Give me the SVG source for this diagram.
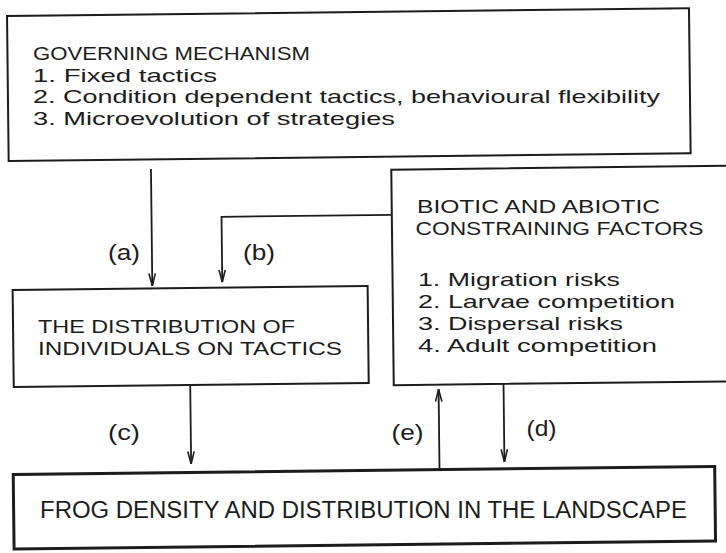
<svg xmlns="http://www.w3.org/2000/svg" width="726" height="553" viewBox="0 0 726 553">
<style>
.box{fill:none;stroke:#1c1c1c;stroke-width:2}
.thick{stroke-width:3}
.t{font-family:"Liberation Sans","DejaVu Sans",sans-serif;font-size:22px;fill:#1c1c1c}
.s{font-size:19px}
.big{font-size:23px}
.c{fill:none;stroke:#1c1c1c;stroke-width:1.8}
.ah{fill:none;stroke:#1c1c1c;stroke-width:1.6;stroke-linejoin:miter}
</style>
<defs>
<marker id="arr" viewBox="0 0 13 8" refX="12.5" refY="4" markerWidth="13" markerHeight="8" markerUnits="userSpaceOnUse" orient="auto">
<path class="ah" d="M0,0.8 L12.5,4 L0,7.2"/>
</marker>
</defs>
<rect x="0" y="0" width="726" height="553" fill="#ffffff"/>
<g id="governing-mechanism">
<rect class="box" x="10" y="12" width="682" height="145" transform="rotate(-0.65 363 276)"/>
<text class="t s" x="33" y="60" textLength="277" lengthAdjust="spacingAndGlyphs">GOVERNING MECHANISM</text>
<text class="t s" x="33" y="81.5" textLength="184" lengthAdjust="spacingAndGlyphs">1. Fixed tactics</text>
<text class="t s" x="33" y="103" textLength="627" lengthAdjust="spacingAndGlyphs">2. Condition dependent tactics, behavioural flexibility</text>
<text class="t s" x="33" y="124.5" textLength="362" lengthAdjust="spacingAndGlyphs">3. Microevolution of strategies</text>
</g>
<g id="constraining-factors">
<rect class="box" x="392.5" y="170" width="370" height="215.5" transform="rotate(-0.65 363 276)"/>
<text class="t s" x="417" y="212.5" textLength="243" lengthAdjust="spacingAndGlyphs">BIOTIC AND ABIOTIC</text>
<text class="t s" x="415.5" y="234.5" textLength="288" lengthAdjust="spacingAndGlyphs">CONSTRAINING FACTORS</text>
<text class="t s" x="418" y="286" textLength="202" lengthAdjust="spacingAndGlyphs">1. Migration risks</text>
<text class="t s" x="418" y="308" textLength="257" lengthAdjust="spacingAndGlyphs">2. Larvae competition</text>
<text class="t s" x="418" y="330" textLength="205" lengthAdjust="spacingAndGlyphs">3. Dispersal risks</text>
<text class="t s" x="418" y="352" textLength="239" lengthAdjust="spacingAndGlyphs">4. Adult competition</text>
</g>
<g id="distribution">
<rect class="box" x="12.5" y="286" width="355" height="97" transform="rotate(-0.65 363 276)"/>
<text class="t s" x="38" y="333" textLength="257" lengthAdjust="spacingAndGlyphs">THE DISTRIBUTION OF</text>
<text class="t s" x="38" y="355" textLength="304" lengthAdjust="spacingAndGlyphs">INDIVIDUALS ON TACTICS</text>
</g>
<g id="landscape">
<rect class="box thick" x="11" y="470.5" width="701.5" height="74.5" transform="rotate(-0.65 363 276)"/>
<text class="t big" x="40" y="517.5" textLength="647" lengthAdjust="spacingAndGlyphs">FROG DENSITY AND DISTRIBUTION IN THE LANDSCAPE</text>
</g>
<g id="connectors">
<g transform="rotate(-0.65 363 276)">
<path class="c" d="M152.2,166.5 V283.5" marker-end="url(#arr)"/>
<path class="c" d="M392.5,215.2 H222.2 V280.5" marker-end="url(#arr)"/>
<path class="c" d="M189,383 V462" marker-end="url(#arr)"/>
<path class="c" d="M437.3,470.5 V390" marker-end="url(#arr)"/>
<path class="c" d="M502.3,385.5 V463.3" marker-end="url(#arr)"/>
</g>
<text class="t" x="108" y="260" textLength="32" lengthAdjust="spacingAndGlyphs">(a)</text>
<text class="t" x="243" y="260" textLength="32" lengthAdjust="spacingAndGlyphs">(b)</text>
<text class="t" x="108" y="440" textLength="32" lengthAdjust="spacingAndGlyphs">(c)</text>
<text class="t" x="391.5" y="440" textLength="32" lengthAdjust="spacingAndGlyphs">(e)</text>
<text class="t" x="526.5" y="436" textLength="30" lengthAdjust="spacingAndGlyphs">(d)</text>
</g>
</svg>
